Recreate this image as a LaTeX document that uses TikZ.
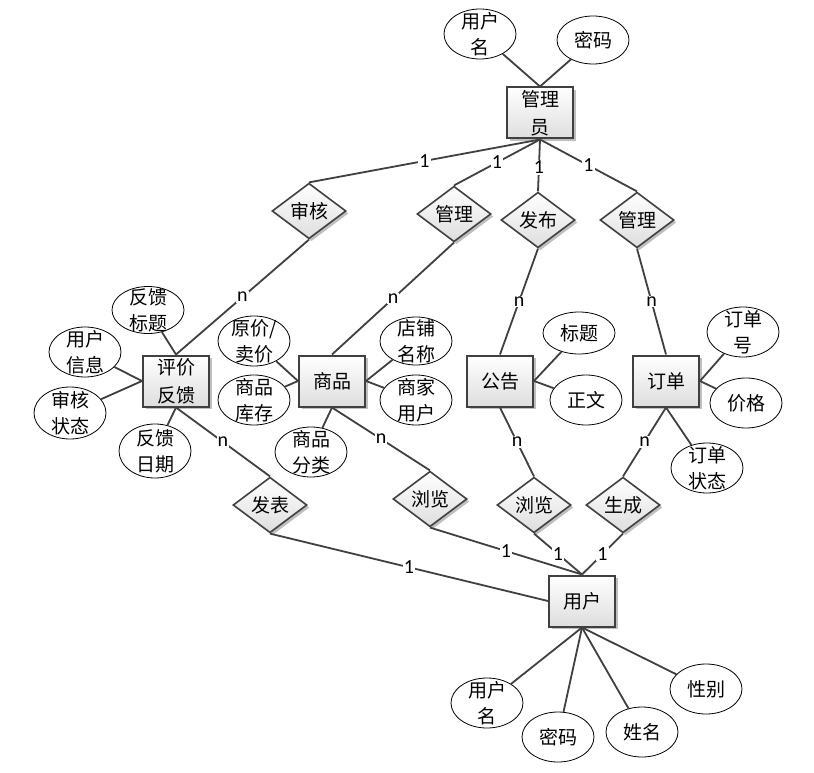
\documentclass[tikz,border=0pt]{standalone}
\usepackage{fontspec}
\newfontfamily\cjk{Noto Sans CJK SC}
\newfontfamily\lat{Carlito}
\usetikzlibrary{shapes.geometric,shadows}
\definecolor{edge}{HTML}{404040}
\begin{document}
\begin{tikzpicture}[x=1pt,y=-1pt,
 conn/.style={draw=edge, line width=1.8pt},
 shad/.style={drop shadow={shadow xshift=2.5pt, shadow yshift=-2.5pt, opacity=0.25, fill=black}},
 entity/.style={rectangle, draw=edge, line width=2pt, top color=white, bottom color=black!13, minimum width=66pt, minimum height=51pt, inner sep=1pt, align=center, font=\cjk\fontsize{19}{28}\selectfont, shad},
 rel/.style={diamond, draw=edge, line width=1.6pt, top color=white, bottom color=black!13, minimum width=74pt, minimum height=46pt, inner sep=0pt, font=\cjk\fontsize{19}{22}\selectfont, shad},
 attr/.style={ellipse, draw=black, line width=0.8pt, fill=white, minimum width=72pt, minimum height=50pt, inner sep=0pt},
 atxt/.style={align=center, font=\cjk\fontsize{19}{26}\selectfont, inner sep=0pt},
 lab/.style={fill=white, inner sep=1pt, font=\lat\fontsize{20}{22}\selectfont}
]
\useasboundingbox[fill=white] (0,0) rectangle (814,773);

% entities
\node[entity] (mgr) at (540,113) {管理\\员};
\node[entity] (pj) at (176,381) {评价\\反馈};
\node[entity] (sp) at (332,381) {商品};
\node[entity] (gg) at (500,381) {公告};
\node[entity] (dd) at (666,381) {订单};
\node[entity] (yh) at (582,601) {用户};

% relationships
\node[rel] (sh) at (309,211) {审核};
\node[rel] (gl1) at (454,214) {管理};
\node[rel] (fb) at (538,220) {发布};
\node[rel] (gl2) at (637,220) {管理};
\node[rel] (fbiao) at (270,505) {发表};
\node[rel] (ll1) at (430,499) {浏览};
\node[rel] (ll2) at (534,505) {浏览};
\node[rel] (sc) at (623,505) {生成};

% attributes
\node[attr, label={[atxt]center:{用户\\名}}] (a1) at (480,34) {};
\node[attr, minimum height=48pt, label={[atxt]center:{密码}}] (a2) at (593,40) {};
\node[attr, minimum height=47pt, label={[atxt]center:{反馈\\标题}}] (b1) at (148,310) {};
\node[attr, label={[atxt]center:{用户\\信息}}] (b2) at (85,352) {};
\node[attr, minimum height=52pt, label={[atxt]center:{审核\\状态}}] (b3) at (70,413) {};
\node[attr, minimum height=54pt, label={[atxt]center:{反馈\\日期}}] (b4) at (155,451) {};
\node[attr, label={[atxt]center:{原价/\\卖价}}] (c1) at (254,341) {};
\node[attr, label={[atxt]center:{商品\\库存}}] (c2) at (254,400) {};
\node[attr, label={[atxt]center:{商品\\分类}}] (c3) at (311,452) {};
\node[attr, minimum height=48pt, label={[atxt]center:{店铺\\名称}}] (c4) at (416,341) {};
\node[attr, label={[atxt]center:{商家\\用户}}] (c5) at (416,400) {};
\node[attr, minimum height=42pt, label={[atxt]center:{标题}}] (d1) at (579,333) {};
\node[attr, label={[atxt]center:{正文}}] (d2) at (586,400) {};
\node[attr, label={[atxt]center:{订单\\号}}] (e1) at (743,332) {};
\node[attr, label={[atxt]center:{价格}}] (e2) at (746,403) {};
\node[attr, label={[atxt]center:{订单\\状态}}] (e3) at (707,468) {};
\node[attr, label={[atxt]center:{用户\\名}}] (f1) at (487,703) {};
\node[attr, label={[atxt]center:{密码}}] (f2) at (558,737) {};
\node[attr, label={[atxt]center:{姓名}}] (f3) at (642,732) {};
\node[attr, label={[atxt]center:{性别}}] (f4) at (706,689) {};

% attribute connectors
\draw[conn] (a1) -- (mgr.north);
\draw[conn] (a2) -- (mgr.north);
\draw[conn] (b1) -- (pj.north);
\draw[conn] (b2) -- (pj.west);
\draw[conn] (b3) -- (pj.west);
\draw[conn] (b4) -- (pj.south);
\draw[conn] (c1) -- (sp.west);
\draw[conn] (c2) -- (sp.west);
\draw[conn] (c3) -- (sp.south);
\draw[conn] (c4) -- (sp.east);
\draw[conn] (c5) -- (sp.east);
\draw[conn] (d1) -- (gg.east);
\draw[conn] (d2) -- (gg.east);
\draw[conn] (e1) -- (dd.east);
\draw[conn] (e2) -- (dd.east);
\draw[conn] (e3) -- (dd.south);
\draw[conn] (yh.south) -- (f1);
\draw[conn] (yh.south) -- (f2);
\draw[conn] (yh.south) -- (f3);
\draw[conn] (yh.south) -- (f4);

% relationship connectors
\draw[conn] (mgr.south) -- node[lab] {1} (sh.north);
\draw[conn] (mgr.south) -- node[lab] {1} (gl1.north);
\draw[conn] (mgr.south) -- node[lab, pos=0.54] {1} (fb.north);
\draw[conn] (mgr.south) -- node[lab] {1} (gl2.north);
\draw[conn] (sh.south) -- node[lab] {n} (pj.north);
\draw[conn] (gl1.south) -- node[lab] {n} (sp.north);
\draw[conn] (fb.south) -- node[lab] {n} (gg.north);
\draw[conn] (gl2.south) -- node[lab] {n} (dd.north);
\draw[conn] (pj.south) -- node[lab] {n} (fbiao.north);
\draw[conn] (sp.south) -- node[lab] {n} (ll1.north);
\draw[conn] (gg.south) -- node[lab] {n} (ll2.north);
\draw[conn] (dd.south) -- node[lab] {n} (sc.north);
\draw[conn] (fbiao.south) -- node[lab] {1} (yh.west);
\draw[conn] (ll1.south) -- node[lab] {1} (yh.north);
\draw[conn] (ll2.south) -- node[lab] {1} (yh.north);
\draw[conn] (sc.south) -- node[lab] {1} (yh.north);
\end{tikzpicture}
\end{document}
